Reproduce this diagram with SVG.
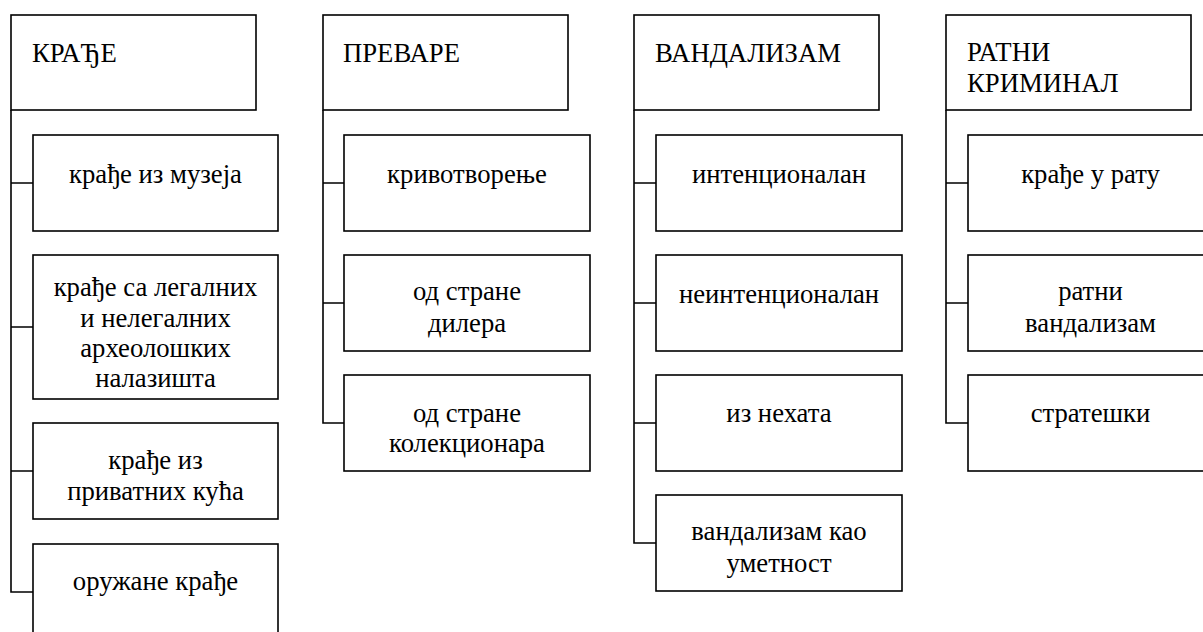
<svg xmlns="http://www.w3.org/2000/svg" width="1203" height="632" viewBox="0 0 1203 632">
<style>
rect{fill:#fff;stroke:#000;stroke-width:1.6}
.c{fill:none;stroke:#000;stroke-width:1.6}
text{font-family:"Liberation Serif","Times New Roman",serif;font-size:26.7px;fill:#000}
.m{text-anchor:middle}
</style>
<rect x="0" y="0" width="1203" height="632" style="stroke:none"/>
<g id="connectors">
<path class="c" d="M11,110V592H33M11,183H33M11,327H33M11,471H33"/>
<path class="c" d="M323,110V423H344M323,183H344M323,303H344"/>
<path class="c" d="M634,110V543H656M634,183H656M634,303H656M634,423H656"/>
<path class="c" d="M946,110V423H968M946,183H968M946,303H968"/>
</g>
<g id="n-krade"><rect x="11" y="15" width="245" height="95"/><text x="32" y="62">КРАЂЕ</text></g>
<g id="n-krade-muzej"><rect x="33" y="135" width="245" height="96"/><text class="m" x="155.5" y="183">крађе из музеја</text></g>
<g id="n-krade-nalazista"><rect x="33" y="255" width="245" height="144"/><text class="m" x="155.5" y="296">крађе са легалних</text><text class="m" x="155.5" y="327">и нелегалних</text><text class="m" x="155.5" y="357">археолошких</text><text class="m" x="155.5" y="387">налазишта</text></g>
<g id="n-krade-kuce"><rect x="33" y="423" width="245" height="96"/><text class="m" x="155.5" y="469">крађе из</text><text class="m" x="155.5" y="500">приватних кућа</text></g>
<g id="n-oruzane"><rect x="33" y="544" width="245" height="100"/><text class="m" x="155.5" y="590">оружане крађе</text></g>

<g id="n-prevare"><rect x="323" y="15" width="245" height="95"/><text x="343" y="62">ПРЕВАРЕ</text></g>
<g id="n-krivotvorenje"><rect x="344" y="135" width="246" height="96"/><text class="m" x="467" y="183">кривотворење</text></g>
<g id="n-dileri"><rect x="344" y="255" width="246" height="96"/><text class="m" x="467" y="300">од стране</text><text class="m" x="467" y="332">дилера</text></g>
<g id="n-kolekcionari"><rect x="344" y="375" width="246" height="96"/><text class="m" x="467" y="422">од стране</text><text class="m" x="467" y="452">колекционара</text></g>

<g id="n-vandalizam"><rect x="634" y="15" width="245" height="95"/><text x="655" y="62">ВАНДАЛИЗАМ</text></g>
<g id="n-intencionalan"><rect x="656" y="135" width="246" height="96"/><text class="m" x="779" y="183">интенционалан</text></g>
<g id="n-neintencionalan"><rect x="656" y="255" width="246" height="96"/><text class="m" x="779" y="303">неинтенционалан</text></g>
<g id="n-nehat"><rect x="656" y="375" width="246" height="96"/><text class="m" x="779" y="422">из нехата</text></g>
<g id="n-umetnost"><rect x="656" y="495" width="246" height="96"/><text class="m" x="779" y="540">вандализам као</text><text class="m" x="779" y="572">уметност</text></g>

<g id="n-ratni"><rect x="946" y="15" width="245" height="95"/><text x="967" y="61">РАТНИ</text><text x="967" y="92">КРИМИНАЛ</text></g>
<g id="n-krade-rat"><rect x="968" y="135" width="245" height="96"/><text class="m" x="1090.5" y="183">крађе у рату</text></g>
<g id="n-ratni-vandalizam"><rect x="968" y="255" width="245" height="96"/><text class="m" x="1090.5" y="300">ратни</text><text class="m" x="1090.5" y="332">вандализам</text></g>
<g id="n-strateski"><rect x="968" y="375" width="245" height="96"/><text class="m" x="1090.5" y="422">стратешки</text></g>
</svg>
